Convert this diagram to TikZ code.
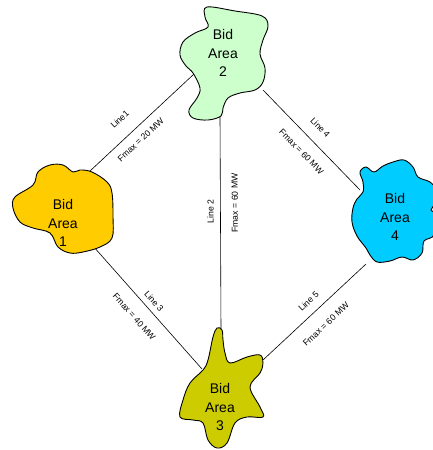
\documentclass[tikz,border=0pt]{standalone}
\usepackage{fontspec}
\setmainfont{Liberation Sans}
\definecolor{areagreen}{RGB}{204,255,204}
\definecolor{areayellow}{RGB}{255,204,0}
\definecolor{areablue}{RGB}{0,204,255}
\definecolor{areaolive}{RGB}{204,204,0}
\tikzset{
  blob/.style={draw=black, line width=0.9pt},
  areatext/.style={align=center, font=\fontsize{14}{18.5}\selectfont, inner sep=0pt},
  tie/.style={draw=black, line width=0.6pt},
  lbl/.style={font=\fontsize{8.7}{10}\selectfont, sloped, inner sep=0pt},
}
\begin{document}
\begin{tikzpicture}[x=1pt,y=1pt]
\useasboundingbox (0,0) rectangle (433,-450);

% attachment points on the outlines
\coordinate (A1L1) at (90,-171);
\coordinate (A2L1) at (194,-74);
\coordinate (A2L4) at (263,-90);
\coordinate (A4L4) at (360,-190);
\coordinate (A3L2) at (221,-330);
\coordinate (A2L2) at (220,-116);
\coordinate (A1L3) at (93,-246);
\coordinate (A3L3) at (202,-369);
\coordinate (A3L5) at (263,-360);
\coordinate (A4L5) at (366,-264);

% connectors
\draw[tie] (A1L1) -- node[lbl, pos=0.40, above=14pt] {Line1}
                     node[lbl, pos=0.41, below=8.4pt] {Fmax = 20 MW} (A2L1);
\draw[tie] (A2L4) -- node[lbl, pos=0.48, above=11.5pt] {Line 4}
                     node[lbl, pos=0.51, below=12pt] {Fmax = 60 MW} (A4L4);
\draw[tie] (A3L2) -- node[lbl, allow upside down, pos=0.553, above=6.5pt] {Line 2}
                     node[lbl, allow upside down, pos=0.593, below=11pt] {Fmax = 60 MW} (A2L2);
\draw[tie] (A1L3) -- node[lbl, pos=0.50, above=5.4pt] {Line 3}
                     node[lbl, pos=0.49, below=12.8pt] {Fmax = 40 MW} (A3L3);
\draw[tie] (A3L5) -- node[lbl, pos=0.52, above=8.3pt] {Line 5}
                     node[lbl, pos=0.50, below=13.4pt] {Fmax = 60 MW} (A4L5);

\begin{scope}
\clip (0,0) rectangle (433,-450);
% Bid Area 2 (green)
\draw[blob, fill=areagreen] plot[smooth cycle, tension=0.6] coordinates {
  (207,-7) (235,-11) (262,-16) (268,-26) (263,-40) (260,-54) (265,-68) (263,-82)
  (255,-90) (240,-93) (228,-98) (223,-108) (221,-116) (208,-120) (193,-118)
  (189,-110) (197,-98) (200,-88) (193,-73) (186,-66) (180,-55) (183,-42)
  (195,-33) (208,-27) (205,-17)};
% Bid Area 1 (yellow)
\draw[blob, fill=areayellow] plot[smooth cycle, tension=0.6] coordinates {
  (15,-197) (33,-185) (38,-172) (50,-165) (63,-165) (73,-172) (80,-170)
  (92,-172) (107,-182) (112,-193) (113,-217) (112,-238) (100,-247) (83,-252)
  (70,-253) (58,-247) (50,-233) (33,-228) (20,-222) (13,-208)};
% Bid Area 4 (blue)
\draw[blob, fill=areablue] plot[smooth cycle, tension=0.6] coordinates {
  (360,-172) (366,-167) (374,-172) (383,-166) (393,-162) (404,-160) (413,-167)
  (418,-177) (430,-182) (436,-190) (434,-205) (431,-210) (436,-215) (434,-235)
  (424,-241) (422,-253) (413,-260) (402,-257) (390,-261) (377,-262) (370,-255)
  (366,-248) (357,-236) (352,-222) (353,-208) (357,-199) (363,-192) (363,-182)};
% Bid Area 3 (olive)
\draw[blob, fill=areaolive] plot[smooth cycle, tension=0.6] coordinates {
  (217,-328) (222,-330) (223,-340) (225,-353) (230,-363) (247,-357) (260,-355)
  (263,-363) (260,-373) (250,-387) (260,-407) (263,-417) (247,-417) (235,-423)
  (227,-443) (217,-448) (208,-440) (203,-423) (193,-420) (180,-417) (183,-400)
  (190,-383) (203,-370) (208,-360) (213,-337)};
\end{scope}

% area names
\node[areatext] (A2) at (223,-53) {Bid\\Area\\2};
\node[areatext] (A1) at (63,-223) {Bid\\Area\\1};
\node[areatext] (A4) at (395,-217) {Bid\\Area\\4};
\node[areatext] (A3) at (220,-407) {Bid\\Area\\3};
\end{tikzpicture}
\end{document}
